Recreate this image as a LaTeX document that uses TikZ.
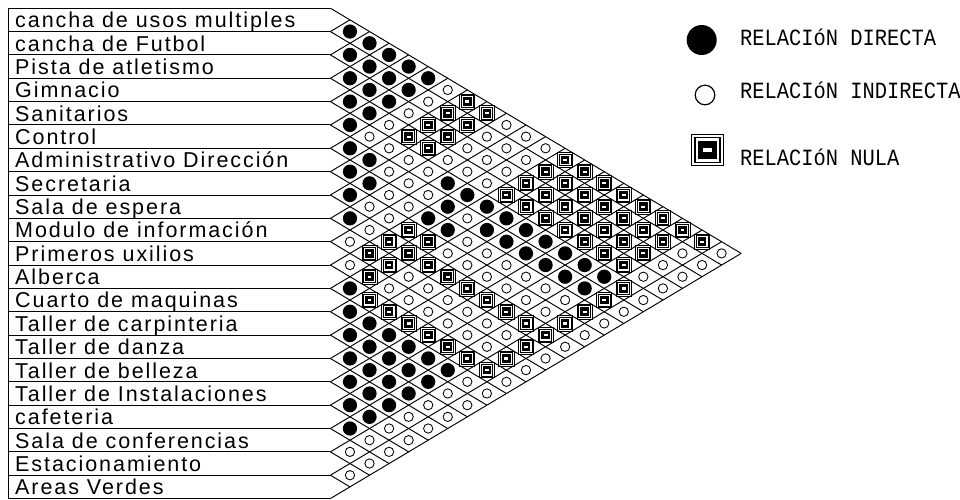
\documentclass[tikz,border=0pt]{standalone}
\usepackage{fontspec}
\newfontfamily\etqfont[LetterSpace=9]{Liberation Sans}
\newfontfamily\leyfont{Liberation Mono}

% 記号（凡例の大きさで定義し、マトリクス内では縮小して使う）
\newcommand{\relD}{\fill (0,0) circle[radius=15pt];}
\newcommand{\relO}{\draw (0,0) circle[radius=9.8pt];}
\newcommand{\relN}{%
  \draw (-15.85pt,-15.85pt) rectangle (15.85pt,15.85pt);
  \draw (-12.5pt,-12.5pt) rectangle (12.5pt,12.5pt);
  \fill (-9.15pt,-9.15pt) rectangle (9.15pt,9.15pt);
  \fill[white] (-4.15pt,-2.35pt) rectangle (4.15pt,2.35pt);}
\newcommand{\leytxt}[1]{\scalebox{1}[1.14]{#1}}

\tikzset{
  rejilla/.style={line width=0.95pt},
  etiqueta/.style={font=\etqfont\fontsize{21.5}{24}\selectfont,inner sep=0pt,anchor=base west},
  leyenda/.style={font=\leyfont\fontsize{20.4}{24}\selectfont,inner sep=0pt,anchor=base west}
}

\begin{document}
\begin{tikzpicture}[x=1pt,y=-1pt]
  \useasboundingbox (0,0) rectangle (960,499); % 参照画像と同じ枠

  % 左側の項目欄（横線と左端の縦線）
  \foreach \k in {0,...,21}
    \draw[rejilla] (8.3,{8.2+23.35*\k}) -- (330.4,{8.2+23.35*\k});
  \draw[rejilla] (8.3,8.2) -- (8.3,{8.2+23.35*21});

  % 項目名
  \foreach \k/\txt in {1/cancha de usos multiples, 2/cancha de Futbol,
      3/Pista de atletismo, 4/Gimnacio, 5/Sanitarios, 6/Control,
      7/Administrativo Dirección, 8/Secretaria, 9/Sala de espera,
      10/Modulo de información, 11/Primeros uxilios, 12/Alberca,
      13/Cuarto de maquinas, 14/Taller de carpinteria, 15/Taller de danza,
      16/Taller de belleza, 17/Taller de Instalaciones, 18/cafeteria,
      19/Sala de conferencias, 20/Estacionamiento, 21/Areas Verdes}
    \node[etiqueta] (e\k) at (15,{8.2+23.35*\k-3.8}) {\txt};

  % 三角形のマトリクス（1目盛り = 菱形の半分）
  \begin{scope}[shift={(330.4,8.2)},x=19.56pt,y=-11.675pt]
    \foreach \k in {0,...,20}
      \draw[rejilla] (0,2*\k) -- ({21-\k},{21+\k}); % 右下がりの線
    \foreach \k in {1,...,21}
      \draw[rejilla] (0,2*\k) -- (\k,\k); % 右上がりの線

    % 各マスの記号：D=直接, O=間接, N=無関係
    \foreach \nf/\fila in {
        1/{D,D,D,D,D,O,N,N,O,O,O,N,N,N,N,N,N,N,N,O},
        2/{D,D,D,D,O,N,N,O,O,O,N,N,N,N,N,N,N,O,O},
        3/{D,D,D,O,N,N,O,O,O,N,N,N,N,N,N,N,O,O},
        4/{D,D,O,N,N,O,O,O,N,N,N,N,N,N,N,O,O},
        5/{D,O,O,O,O,D,D,D,D,D,D,D,D,D,N,O},
        6/{D,D,O,O,O,D,O,D,D,D,D,D,D,N,O},
        7/{D,D,O,O,D,D,O,O,O,O,O,O,N,O},
        8/{D,O,O,N,N,O,O,O,O,O,O,N,O},
        9/{D,O,N,N,N,N,N,N,N,N,N,O},
        10/{O,N,N,O,O,O,O,O,O,N,O},
        11/{O,N,O,O,O,O,O,O,N,O},
        12/{D,N,N,N,N,N,N,N,O},
        13/{D,D,D,D,D,D,O,O},
        14/{D,D,D,D,D,O,O},
        15/{D,D,D,D,O,O},
        16/{D,D,D,O,O},
        17/{D,D,O,O},
        18/{D,O,O},
        19/{O,O},
        20/{O}}
      \foreach \tipo [count=\nc] in \fila {
        \begin{scope}[shift={(\nc,{2*\nf+\nc-1})},scale=0.475,line width=0.85pt]
          \csname rel\tipo\endcsname
        \end{scope}
      }
  \end{scope}

  % 凡例
  \begin{scope}[line width=1.2pt]
    \begin{scope}[shift={(701.7,40)}] \relD \end{scope}
    \begin{scope}[shift={(705,95)}] \relO \end{scope}
    \begin{scope}[shift={(707.5,150)}] \relN \end{scope}
  \end{scope}
  \node[leyenda] (ldir) at (740,45) {\leytxt{RELACIóN DIRECTA}};
  \node[leyenda] (lind) at (740,98.3) {\leytxt{RELACIóN INDIRECTA}};
  \node[leyenda] (lnul) at (740,165) {\leytxt{RELACIóN NULA}};
\end{tikzpicture}
\end{document}
